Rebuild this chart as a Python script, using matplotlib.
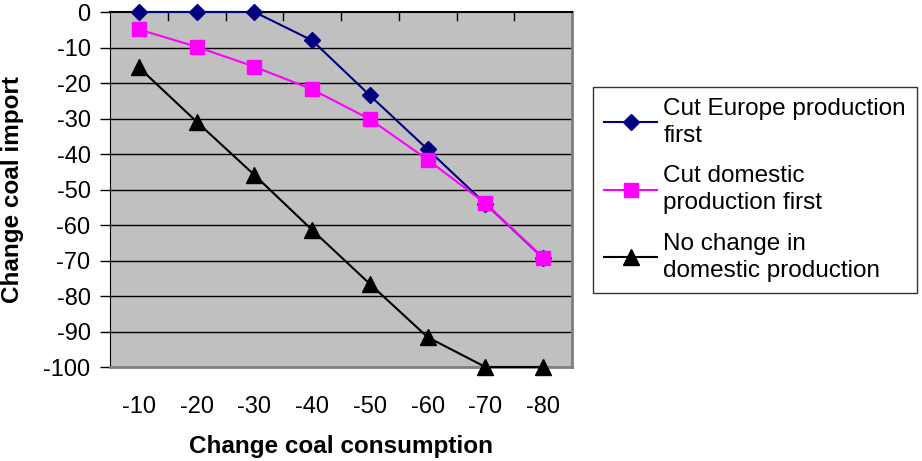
import matplotlib.pyplot as plt
import numpy as np

consumption = ['-10', '-20', '-30', '-40', '-50', '-60', '-70', '-80']
europe_first = [0, 0, 0, -8, -23.5, -38.7, -54, -69.3]
domestic_first = [-4.9, -9.8, -15.4, -21.8, -30.2, -41.6, -53.9, -69.2]
no_change = [-15.6, -30.9, -45.9, -61.4, -76.6, -91.6, -100, -100]
yticks = [0, -10, -20, -30, -40, -50, -60, -70, -80, -90, -100]

plt.rcParams['font.family'] = ['Liberation Sans', 'DejaVu Sans']

fig = plt.figure(figsize=(9.22, 4.61), dpi=100)
ax = fig.add_axes([110 / 922, 1 - 367 / 461, 462 / 922, 355 / 461])
ax.set_facecolor('#c0c0c0')

x = np.arange(len(consumption))
ax.plot(x, europe_first, color='#000080', marker='D', markersize=8.5, lw=1.5,
        clip_on=False, zorder=3, label='Cut Europe production\nfirst')
ax.plot(x, domestic_first, color='#ff00ff', marker='s', markersize=10.5, lw=1.5,
        clip_on=False, zorder=4, label='Cut domestic\nproduction first')
ax.plot(x, no_change, color='black', marker='^', markersize=11, lw=1.5,
        clip_on=False, zorder=5, label='No change in\ndomestic production')

ax.set_xlim(-0.5, len(consumption) - 0.5)
ax.set_ylim(-100, 0)
ax.set_yticks(yticks)
ax.set_yticklabels([str(v) for v in yticks], fontsize=17)
for y in yticks[1:]:
    ax.axhline(y, color='black', lw=1, zorder=0.5)

# category labels sit below the plot, tick marks on the zero line at the top
ax.set_xticks(x)
ax.set_xticklabels(consumption, fontsize=17)
ax.tick_params(axis='x', length=0, pad=21)
for b in np.arange(0.5, len(consumption) - 0.5):
    ax.plot([b, b], [0, -2.2], color='black', lw=1, clip_on=False, zorder=2)
ax.tick_params(axis='y', length=7, width=1, direction='out', pad=7)

for s in ['bottom', 'right']:
    ax.spines[s].set_color('#808080')
    ax.spines[s].set_linewidth(2)
ax.spines['left'].set_color('black')
ax.spines['top'].set_color('black')
ax.spines['top'].set_linewidth(1.5)

ax.set_xlabel('Change coal consumption', fontsize=17.5, fontweight='bold', labelpad=12)
ax.set_ylabel('Change coal import', fontsize=17.5, fontweight='bold', labelpad=14)

leg = ax.legend(loc='upper left', bbox_to_anchor=(593 / 922, 1 - 87 / 461),
                bbox_transform=fig.transFigure, fontsize=17.5, frameon=True,
                fancybox=False, edgecolor='black', handlelength=2.2,
                handletextpad=0.25, labelspacing=0.75, borderpad=0.45,
                borderaxespad=0)
leg.get_frame().set_linewidth(1)
for t in leg.get_texts():
    t.set_linespacing(1.3)

fig.savefig('out.png', dpi=100)
